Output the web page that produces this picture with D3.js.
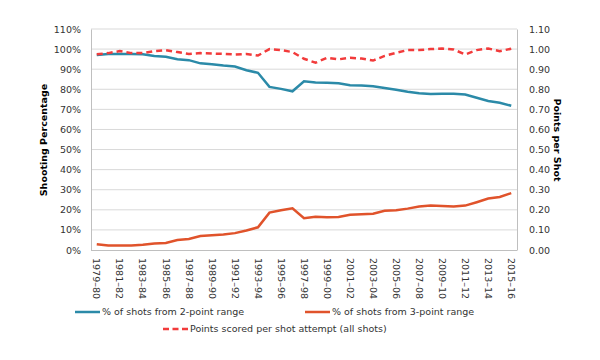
<!DOCTYPE html>
<html><head><meta charset="utf-8">
<script src="https://cdn.jsdelivr.net/npm/d3@7/dist/d3.min.js"></script>
<style>body{margin:0;background:#fff;} svg{display:block;font-family:"DejaVu Sans",Verdana,sans-serif;}</style>
</head><body>
<svg id="c" width="600" height="360"></svg>
<script>
const seasons = ["1979-80","1980-81","1981-82","1982-83","1983-84","1984-85","1985-86","1986-87","1987-88","1988-89","1989-90","1990-91","1991-92","1992-93","1993-94","1994-95","1995-96","1996-97","1997-98","1998-99","1999-00","2000-01","2001-02","2002-03","2003-04","2004-05","2005-06","2006-07","2007-08","2008-09","2009-10","2010-11","2011-12","2012-13","2013-14","2014-15","2015-16"];
const twoPoint = [97.1,97.5,97.5,97.5,97.4,96.6,96.2,94.9,94.5,92.9,92.5,91.8,91.3,89.5,88.2,81.2,80.2,79.0,84.0,83.4,83.3,83.0,82.0,81.9,81.5,80.6,79.8,78.8,78.0,77.6,77.8,77.8,77.4,75.8,74.2,73.3,71.8];
const threePoint = [2.9,2.2,2.2,2.2,2.6,3.2,3.5,5.0,5.5,7.0,7.3,7.7,8.4,9.7,11.3,18.6,19.8,20.8,15.8,16.6,16.3,16.4,17.5,17.8,18.1,19.5,19.8,20.6,21.6,22.1,21.9,21.7,22.1,23.8,25.6,26.4,28.3];
const pointsPerShot = [0.974,0.98,0.99,0.98,0.98,0.99,0.995,0.985,0.976,0.98,0.978,0.976,0.973,0.976,0.968,1.0,0.995,0.985,0.952,0.932,0.957,0.949,0.957,0.953,0.943,0.966,0.981,0.995,0.995,1.0,1.003,0.998,0.973,0.995,1.003,0.99,1.002];
const leftTicks = [0,10,20,30,40,50,60,70,80,90,100,110];
const rightTicks = [0,0.1,0.2,0.3,0.4,0.5,0.6,0.7,0.8,0.9,1.0,1.1];
const labelSeasons = seasons.filter((d,i)=>i%2===0);
const legendLabels = ["% of shots from 2-point range","% of shots from 3-point range","Points scored per shot attempt (all shots)"];

const svg = d3.select("#c");
const L=91, R=517, T=29, B=250;
const x = d3.scaleBand().domain(seasons).range([L,R]);
const yL = d3.scaleLinear().domain([0,110]).range([B,T]);
const yR = d3.scaleLinear().domain([0,1.1]).range([B,T]);
const cx = d => x(d)+x.bandwidth()/2;

// gridlines
svg.append("g").selectAll("line").data(leftTicks.slice(1)).join("line")
  .attr("x1",L).attr("x2",R).attr("y1",d=>yL(d)).attr("y2",d=>yL(d))
  .attr("stroke","#d9d9d9").attr("stroke-width",1);

const gl = svg.append("g").attr("transform",`translate(${L},0)`)
  .call(d3.axisLeft(yL).tickValues(leftTicks).tickSize(0).tickPadding(10).tickFormat(d=>d+"%"));
const gr = svg.append("g").attr("transform",`translate(${R},0)`)
  .call(d3.axisRight(yR).tickValues(rightTicks).tickSize(0).tickPadding(12).tickFormat(d3.format(".2f")));
const gb = svg.append("g").attr("transform",`translate(0,${B})`)
  .call(d3.axisBottom(x).tickValues(labelSeasons).tickSize(0).tickPadding(3));
[gl,gr,gb].forEach(g=>{
  g.select(".domain").attr("stroke","#bfbfbf");
  g.selectAll("text").attr("fill","#333").style("font-size","9.5px").style("font-family","DejaVu Sans, Verdana, sans-serif");
});
gb.select(".domain").attr("d",`M${L},0.5H${R}`);
gb.selectAll("text").attr("transform","rotate(90)").attr("text-anchor","start")
  .attr("x",8).attr("y",0).attr("dy","0.35em").text(d=>d.replace("-","–"));

svg.append("text").attr("transform",`translate(47,140) rotate(-90)`).attr("text-anchor","middle")
  .style("font-size","9.5px").style("font-weight","bold").attr("fill","#000").text("Shooting Percentage");
svg.append("text").attr("transform",`translate(554,140) rotate(90)`).attr("text-anchor","middle")
  .style("font-size","9.5px").style("font-weight","bold").attr("fill","#000").text("Points per Shot");

const lineL = d3.line().x((d,i)=>cx(seasons[i])).y(d=>yL(d));
const lineR = d3.line().x((d,i)=>cx(seasons[i])).y(d=>yR(d));
const colors = ["#2b8aa8","#e0532b","#f23b3b"];
svg.append("path").datum(twoPoint).attr("d",lineL).attr("fill","none").attr("stroke",colors[0]).attr("stroke-width",2.5);
svg.append("path").datum(threePoint).attr("d",lineL).attr("fill","none").attr("stroke",colors[1]).attr("stroke-width",2.5);
svg.append("path").datum(pointsPerShot).attr("d",lineR).attr("fill","none").attr("stroke",colors[2]).attr("stroke-width",2.5).attr("stroke-dasharray","6,4");

const leg = [{x:75,y:312},{x:305,y:312},{x:163,y:329}];
leg.forEach((p,i)=>{
  const g = svg.append("g").attr("transform",`translate(${p.x},${p.y})`);
  g.append("line").attr("x1",0).attr("x2",25).attr("stroke",colors[i]).attr("stroke-width",2.5)
    .attr("stroke-dasharray", i===2?"6,3.5":null);
  g.append("text").attr("x",27).attr("dy","0.35em").style("font-size","9.5px").attr("fill","#333").text(legendLabels[i]);
});
</script>
</body></html>
